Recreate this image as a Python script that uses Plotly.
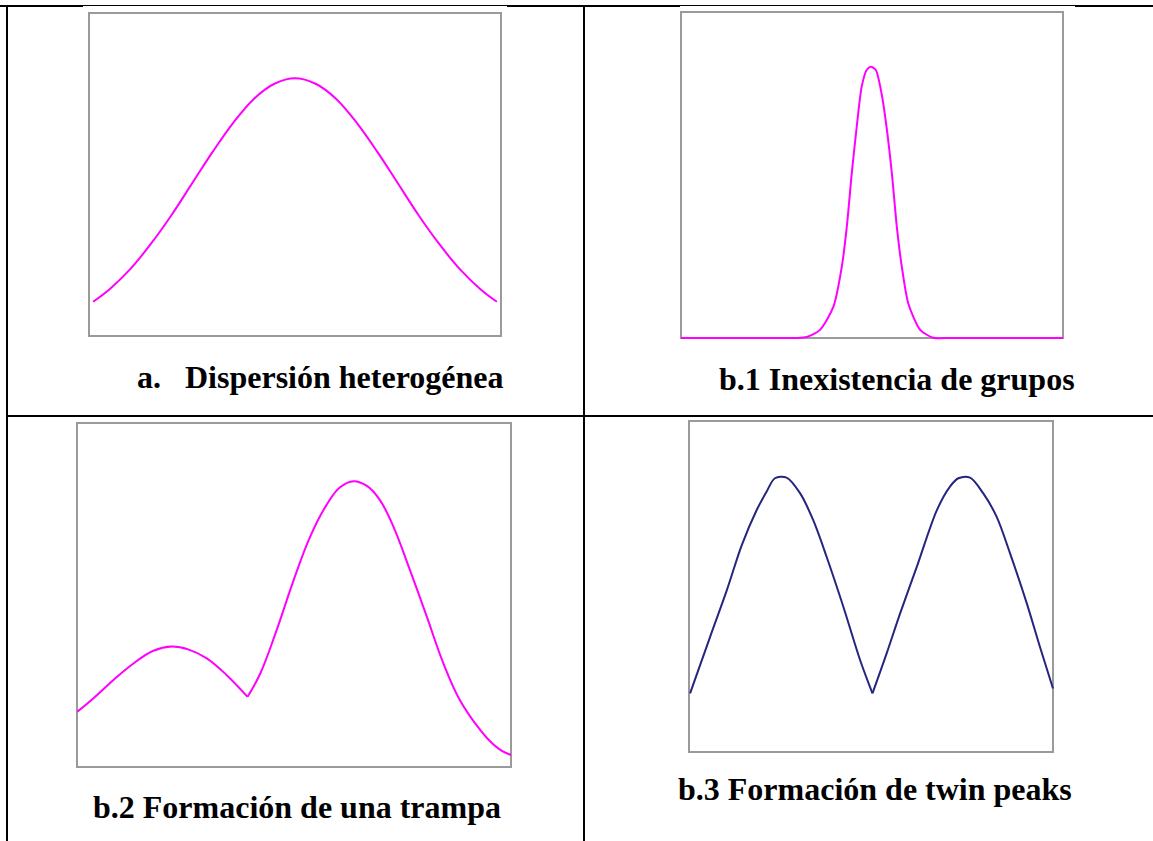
import plotly.graph_objects as go

W, H = 1153, 841

# ---- curve data (x across the frame 0-100, y up the frame 0-100) ----
a_x = [1, 5, 10, 15, 20, 25, 30, 35, 40, 45, 50,
       55, 60, 65, 70, 75, 80, 85, 90, 95, 99]
a_y = [10.6, 14.5, 20.7, 28.5, 37.4, 47.2, 57.0, 66.0, 73.4, 78.1, 79.8,
       78.1, 73.4, 66.0, 57.0, 47.2, 37.4, 28.5, 20.7, 14.5, 10.6]

b1_x = [0, 20, 30, 32.9, 36.4, 39.9, 42.1, 43.4, 44.7, 46.0, 47.3, 48.6, 49.7,
        51.0, 52.5, 53.8, 55.2, 56.5, 57.8, 59.5, 62.6, 66.0, 70, 80, 100]
b1_y = [0, 0, 0, 0.3, 2.5, 9.6, 21.9, 34.1, 50.5, 64.8, 77.1, 82.2, 83.2,
        82.2, 75.0, 64.8, 50.5, 34.1, 21.9, 10.6, 2.5, 0.1, 0, 0, 0]

# trap: small hump, sharp notch, then the tall peak
b2_left_x = [0.1, 3.8, 8.4, 13.0, 17.6, 21.8, 25.6, 29.9, 34.5, 39.3]
b2_left_y = [16.1, 20.0, 25.3, 30.1, 33.8, 35.0, 34.2, 31.6, 26.7, 20.4]
b2_right_x = [39.3, 42.2, 46.0, 49.8, 53.7, 57.5, 60.6, 63.7, 66.8, 69.8,
              72.9, 76.7, 80.6, 84.4, 88.2, 92.9, 95.9, 98.0, 100]
b2_right_y = [20.4, 27.1, 39.8, 53.9, 66.9, 76.2, 81.3, 83.1, 81.7, 77.6,
              69.9, 57.3, 43.7, 30.2, 19.5, 10.8, 6.6, 4.6, 3.5]

# twin peaks, split at the central notch
b3_left_x = [0.3, 5.8, 10.4, 14.5, 18.6, 21.3, 23.6, 26.8, 30.5, 34.1,
             37.8, 42.4, 47.0, 50.4]
b3_left_y = [17.7, 34.8, 48.9, 62.5, 73.1, 78.6, 82.7, 82.9, 78.2, 70.1,
             59.0, 43.9, 27.8, 17.7]
b3_right_x = [50.4, 54.3, 58.0, 62.6, 68.1, 71.7, 74.0, 77.2, 80.8, 84.5,
              88.2, 92.8, 96.4, 100]
b3_right_y = [17.7, 29.8, 41.9, 56.0, 73.1, 80.2, 82.7, 82.9, 78.2, 71.1,
              60.0, 44.9, 31.8, 19.2]

MAGENTA = "#ff00ff"
NAVY = "#25257f"
FRAME = "#9a9a9a"

# frame boxes in page pixels: left, top, right, bottom
frames = {
    "a": (89, 13, 501, 336),
    "b1": (681, 12, 1063, 338),
    "b2": (77, 423, 511, 767),
    "b3": (689, 421, 1053, 752),
}
PAD = 3  # px of slack around each frame so curves on its edges are not clipped

fig = go.Figure()


def px_x(p):
    return p / W


def px_y(p):
    return 1 - p / H


shapes = []
layout_axes = {}
order = ["a", "b1", "b2", "b3"]
for i, key in enumerate(order):
    l, t, r, b = frames[key]
    suffix = "" if i == 0 else str(i + 1)
    ux = 100 / (r - l) * PAD
    uy = 100 / (b - t) * PAD
    common = dict(showgrid=False, zeroline=False,
                  showticklabels=False, ticks="", showline=False,
                  fixedrange=True)
    layout_axes["xaxis" + suffix] = dict(domain=[px_x(l - PAD), px_x(r + PAD)],
                                         range=[-ux, 100 + ux],
                                         anchor="y" + suffix, **common)
    layout_axes["yaxis" + suffix] = dict(domain=[px_y(b + PAD), px_y(t - PAD)],
                                         range=[-uy, 100 + uy],
                                         anchor="x" + suffix, **common)
    # grey frame drawn beneath the curve so curves can sit on its edges
    shapes.append(dict(type="rect", xref="paper", yref="paper",
                       x0=px_x(l), x1=px_x(r), y0=px_y(b), y1=px_y(t),
                       line=dict(color=FRAME, width=2), fillcolor="white",
                       layer="below"))


def add_curve(xs, ys, idx, color, smooth=1.1):
    suffix = "" if idx == 0 else str(idx + 1)
    fig.add_trace(go.Scatter(
        x=xs, y=ys, mode="lines", xaxis="x" + suffix, yaxis="y" + suffix,
        line=dict(color=color, width=2, shape="spline", smoothing=smooth),
        showlegend=False, hoverinfo="skip"))


add_curve(a_x, a_y, 0, MAGENTA, smooth=1.0)
add_curve(b1_x, b1_y, 1, MAGENTA, smooth=0.7)
add_curve(b2_left_x, b2_left_y, 2, MAGENTA, smooth=1.1)
add_curve(b2_right_x, b2_right_y, 2, MAGENTA, smooth=1.1)
add_curve(b3_left_x, b3_left_y, 3, NAVY, smooth=0.9)
add_curve(b3_right_x, b3_right_y, 3, NAVY, smooth=0.9)


# table rules
def rule(x0, y0, x1, y1, w=2):
    shapes.append(dict(type="line", xref="paper", yref="paper",
                       x0=px_x(x0), y0=px_y(y0), x1=px_x(x1), y1=px_y(y1),
                       line=dict(color="black", width=w), layer="below"))


rule(0, 5.5, W, 5.5, w=1)
rule(0, 6, 83, 6)
rule(507, 6, 680, 6)
rule(1075, 6, W, 6)
rule(7, 5, 7, H)
rule(584, 5, 584, H)
rule(7, 416, W, 416)

# captions
FONT = dict(family="Liberation Serif", size=32, color="black")
captions = [
    (136, 377, "<b>a.</b>"),
    (184, 377, "<b>Dispersión heterogénea</b>"),
    (718, 379, "<b>b.1 Inexistencia de grupos</b>"),
    (92, 807, "<b>b.2 Formación de una trampa</b>"),
    (677, 789, "<b>b.3 Formación de twin peaks</b>"),
]
annotations = [dict(x=px_x(x), y=px_y(y), xref="paper", yref="paper",
                    text=t, showarrow=False, xanchor="left", yanchor="middle",
                    font=FONT, borderpad=0)
               for x, y, t in captions]

fig.update_layout(width=W, height=H, margin=dict(l=0, r=0, t=0, b=0),
                  paper_bgcolor="white", plot_bgcolor="rgba(0,0,0,0)",
                  shapes=shapes, annotations=annotations, **layout_axes)

fig.write_html("out.html", config={"displayModeBar": False})
